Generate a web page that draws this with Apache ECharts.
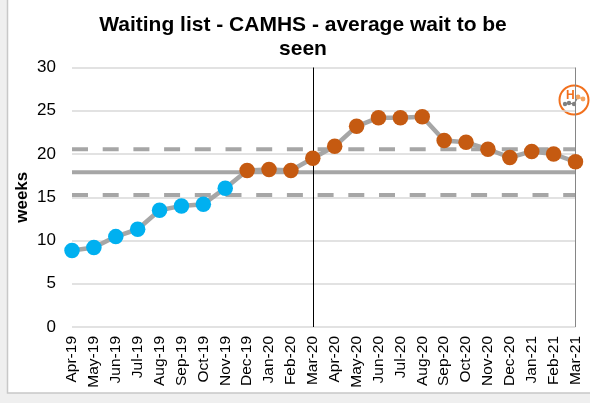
<!DOCTYPE html>
<html>
<head>
<meta charset="utf-8">
<title>Waiting list - CAMHS</title>
<script src="https://cdn.jsdelivr.net/npm/echarts@6/dist/echarts.min.js"></script>
<style>
html, body { margin: 0; padding: 0; background: #efefef; }
#chart_1 { width: 590px; height: 403px; }
</style>
</head>
<body>
<div id="chart_1"></div>
<script>
var months = ['Apr-19', 'May-19', 'Jun-19', 'Jul-19', 'Aug-19', 'Sep-19', 'Oct-19', 'Nov-19',
    'Dec-19', 'Jan-20', 'Feb-20', 'Mar-20', 'Apr-20', 'May-20', 'Jun-20', 'Jul-20', 'Aug-20',
    'Sep-20', 'Oct-20', 'Nov-20', 'Dec-20', 'Jan-21', 'Feb-21', 'Mar-21'];
var waits = [8.85, 9.2, 10.45, 11.3, 13.5, 14, 14.2, 16.05,
    18.1, 18.2, 18.1, 19.5, 20.9, 23.2, 24.2, 24.2, 24.3,
    21.55, 21.35, 20.55, 19.6, 20.3, 20, 19.1];
var blueMonths = 8;
var meanLine = 17.9;
var upperLine = 20.55;
var lowerLine = 15.25;
var stepMonth = 'Mar-20';
var lastMonth = 'Mar-21';

var myChart = echarts.init(document.getElementById('chart_1'));

function flatLine(value) {
    return months.map(function () { return value; });
}

function limitSeries(value, type) {
    return {
        type: 'line',
        data: flatLine(value),
        symbol: 'none',
        silent: true,
        z: 2,
        lineStyle: { color: '#a6a6a6', width: 4, type: type }
    };
}

myChart.setOption({
    animation: false,
    backgroundColor: '#efefef',
    textStyle: { fontFamily: 'Liberation Sans' },
    title: {
        text: 'Waiting list - CAMHS - average wait to be\nseen',
        left: 298,
        top: 8,
        textAlign: 'center',
        textStyle: { fontSize: 21, fontWeight: 'bold', color: '#000', lineHeight: 24 }
    },
    grid: { left: 72, top: 67.5, width: 503.5, height: 259.5, outerBoundsMode: 'none' },
    xAxis: {
        type: 'category',
        data: months,
        boundaryGap: false,
        axisLine: { show: false },
        axisTick: { show: false },
        axisLabel: { rotate: 90, interval: 0, fontSize: 15.5, color: '#000', margin: 9 }
    },
    yAxis: {
        type: 'value',
        min: 0,
        max: 30,
        interval: 5,
        name: 'weeks',
        nameLocation: 'middle',
        nameGap: 41.5,
        nameMoveOverlap: false,
        nameTextStyle: { fontSize: 17, fontWeight: 'bold', color: '#000' },
        axisLine: { show: false },
        axisTick: { show: false },
        axisLabel: { fontSize: 17, color: '#000', margin: 16 },
        splitLine: { show: true, lineStyle: { color: '#d9d9d9', width: 1.5 } }
    },
    series: [
        limitSeries(upperLine, [16, 14.7]),
        limitSeries(lowerLine, [16, 14.7]),
        limitSeries(meanLine, 'solid'),
        {
            type: 'line',
            data: waits.map(function (v, i) {
                return { value: v, itemStyle: { color: i < blueMonths ? '#00b0f0' : '#c55a11' } };
            }),
            symbol: 'circle',
            symbolSize: 15.5,
            clip: false,
            z: 4,
            lineStyle: { color: '#a6a6a6', width: 4.5 },
            markLine: {
                silent: true,
                symbol: 'none',
                label: { show: false },
                z: 3,
                data: [
                    { xAxis: stepMonth, lineStyle: { color: '#000', width: 1, type: 'solid' } },
                    { xAxis: lastMonth, lineStyle: { color: '#868686', width: 1, type: 'solid' } }
                ]
            }
        }
    ],
    graphic: [
        // white card behind the plot
        {
            type: 'rect',
            z: -1,
            silent: true,
            shape: { x: 7.5, y: -4, width: 590, height: 397 },
            style: { fill: '#fff', stroke: '#c8c8c8', lineWidth: 1.5 }
        },
        // H badge on the right edge
        {
            type: 'group',
            x: 574,
            y: 100,
            z: 10,
            silent: true,
            children: [
                { type: 'circle', shape: { cx: 0, cy: 0, r: 14.5 }, style: { fill: '#fff', stroke: '#f2701d', lineWidth: 2 } },
                { type: 'text', x: -8, y: -10, style: { text: 'H', fill: '#f2701d', font: 'bold 12px Liberation Sans' } },
                { type: 'polyline', shape: { points: [[-9, 4], [-5, 3], [0, 4], [4, -3]] }, style: { stroke: '#808080', lineWidth: 1.2, fill: null } },
                { type: 'polyline', shape: { points: [[4, -3], [9, -1]] }, style: { stroke: '#f4a460', lineWidth: 1.2, fill: null } },
                { type: 'circle', shape: { cx: -9, cy: 4, r: 2.2 }, style: { fill: '#808080' } },
                { type: 'circle', shape: { cx: -5, cy: 3, r: 2.2 }, style: { fill: '#808080' } },
                { type: 'circle', shape: { cx: 0, cy: 4, r: 2.2 }, style: { fill: '#808080' } },
                { type: 'circle', shape: { cx: 4, cy: -3, r: 2.4 }, style: { fill: '#f4a460' } },
                { type: 'circle', shape: { cx: 9, cy: -1, r: 2.4 }, style: { fill: '#f4a460' } }
            ]
        }
    ]
});
</script>
</body>
</html>
